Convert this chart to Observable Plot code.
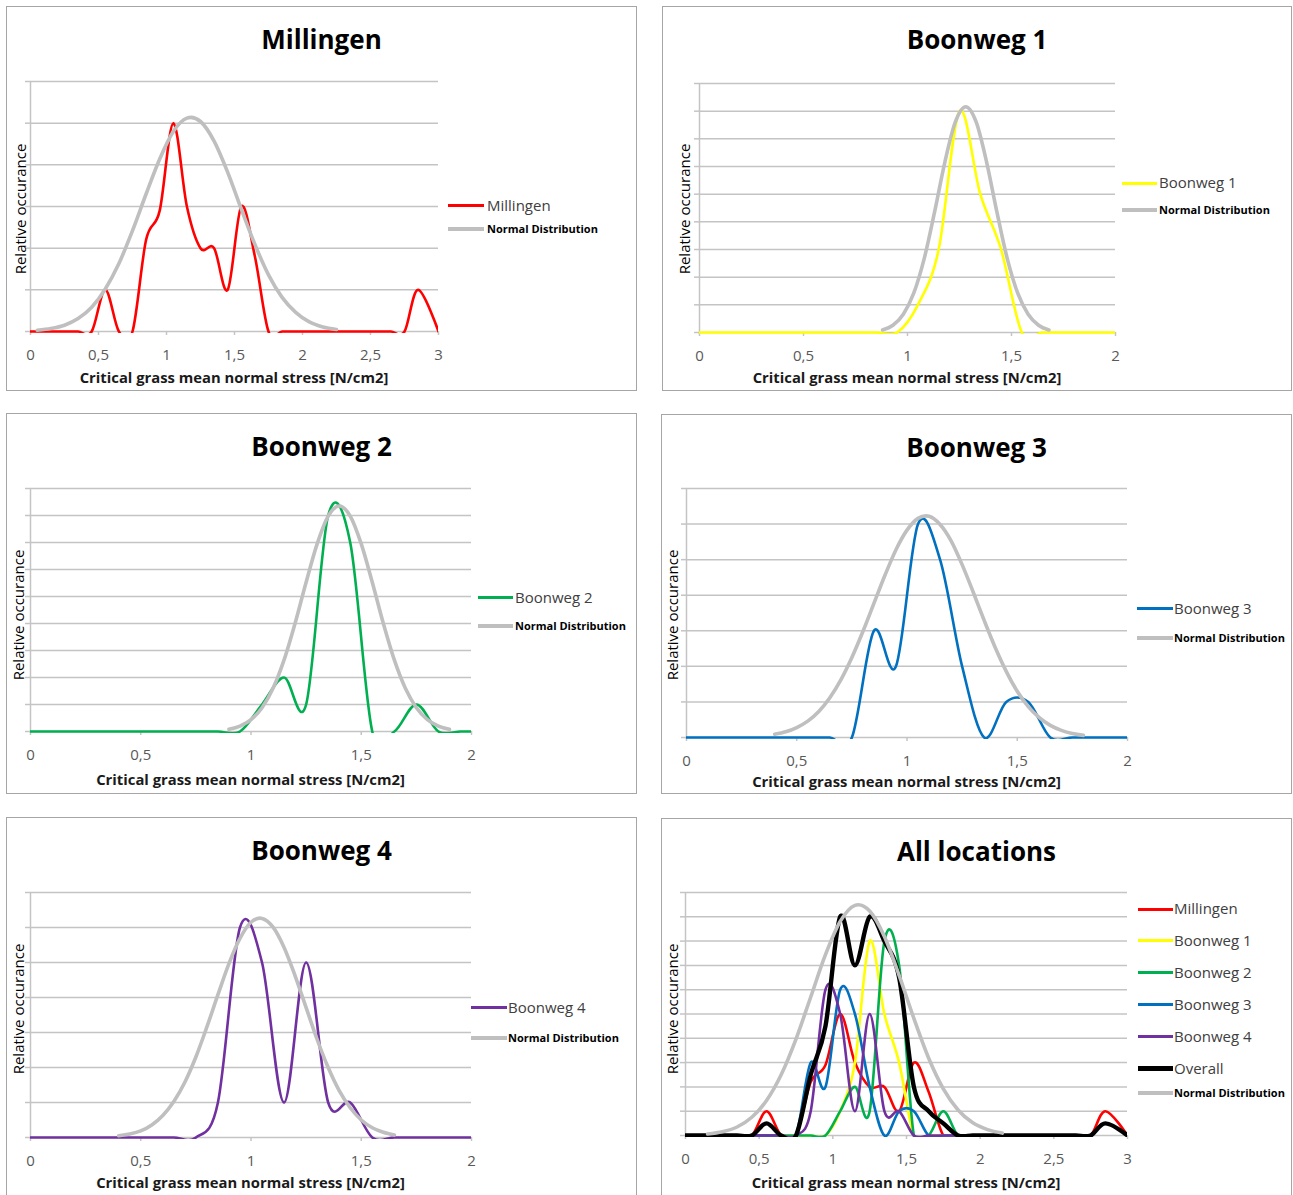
<!DOCTYPE html>
<html><head><meta charset="utf-8">
<script src="https://cdn.jsdelivr.net/npm/d3@7"></script>
<script src="https://cdn.jsdelivr.net/npm/@observablehq/plot@0.6"></script>
<style>
html,body{margin:0;padding:0;background:#fff;}
#root{position:relative;width:1293px;height:1195px;overflow:hidden;background:#fff;font-family:"Open Sans",sans-serif;}
.panel{position:absolute;border:1px solid #a6a6a6;box-sizing:border-box;}
.abs{position:absolute;white-space:nowrap;}
.pw{position:absolute;}
.pw svg{overflow:visible;}
</style></head><body><div id="root"></div>
<script>
// ---------- DATA ----------
const titles = ["Millingen", "Boonweg 1", "Boonweg 2", "Boonweg 3", "Boonweg 4", "All locations"];
const xLabel = "Critical grass mean normal stress [N/cm2]";
const yLabel = "Relative occurance";
const normalName = "Normal Distribution";
const overallName = "Overall";

const xTicks3 = [0, 0.5, 1, 1.5, 2, 2.5, 3];
const xTicks2 = [0, 0.5, 1, 1.5, 2];
const yTicks6 = [0, 1, 2, 3, 4, 5, 6];
const yTicks7 = [0, 1, 2, 3, 4, 5, 6, 7];
const yTicks9 = [0, 1, 2, 3, 4, 5, 6, 7, 8, 9];
const yTicks10 = [0, 1, 2, 3, 4, 5, 6, 7, 8, 9, 10];

// bin positions
const binsTo3 = [0, 0.05, 0.15, 0.25, 0.35, 0.45, 0.55, 0.65, 0.75, 0.85, 0.95, 1.05, 1.15, 1.25, 1.35, 1.45, 1.55, 1.65, 1.75, 1.85, 1.95, 2.05, 2.15, 2.25, 2.35, 2.45, 2.55, 2.65, 2.75, 2.85, 3.0];
const binsTo2 = [0, 0.05, 0.15, 0.25, 0.35, 0.45, 0.55, 0.65, 0.75, 0.85, 0.95, 1.05, 1.15, 1.25, 1.35, 1.45, 1.55, 1.65, 1.75, 1.85, 1.95, 2.0];

// observed relative occurrence
const millingen = [0, 0, 0, 0, 0, 0, 1, 0, 0, 2.2, 2.9, 5, 3, 2, 2, 1, 3, 1.8, 0, 0, 0, 0, 0, 0, 0, 0, 0, 0, 0, 1, 0];
const boonweg1 = [0, 0, 0, 0, 0, 0, 0, 0, 0, 0, 0, 1, 3, 8, 5, 3, 0, 0, 0, 0, 0, 0];
const boonweg2 = [0, 0, 0, 0, 0, 0, 0, 0, 0, 0, 0, 1, 2, 1, 8, 7, 0, 0, 1, 0, 0, 0];
const boonweg3 = [0, 0, 0, 0, 0, 0, 0, 0, 0, 3, 2, 6, 5, 2, 0, 1, 1, 0, 0, 0, 0, 0];
const boonweg4 = [0, 0, 0, 0, 0, 0, 0, 0, 0, 1, 6, 5, 1, 5, 1, 1, 0, 0, 0, 0, 0, 0];
const overall = [0, 0, 0, 0, 0, 0, 0.5, 0, 0, 2.5, 4.5, 9, 7, 9, 8, 6.5, 2, 1, 0.5, 0, 0, 0, 0, 0, 0, 0, 0, 0, 0, 0.5, 0];

// fitted normal distributions
const normMillingenX = [0.05, 0.15, 0.25, 0.35, 0.45, 0.55, 0.65, 0.75, 0.85, 0.95, 1.05, 1.15, 1.25, 1.35, 1.45, 1.55, 1.65, 1.75, 1.85, 1.95, 2.05, 2.15, 2.25];
const normMillingenY = [0.03, 0.07, 0.15, 0.31, 0.58, 1.02, 1.63, 2.42, 3.30, 4.14, 4.80, 5.12, 5.04, 4.57, 3.82, 2.94, 2.09, 1.36, 0.82, 0.46, 0.23, 0.11, 0.05];
const normB1X = [0.88, 0.93, 0.98, 1.03, 1.08, 1.13, 1.18, 1.23, 1.28, 1.33, 1.38, 1.43, 1.48, 1.53, 1.58, 1.63, 1.68];
const normB1Y = [0.09, 0.26, 0.66, 1.42, 2.66, 4.35, 6.17, 7.61, 8.16, 7.61, 6.17, 4.35, 2.66, 1.42, 0.66, 0.26, 0.09];
const normB2X = [0.90, 0.95, 1.00, 1.05, 1.10, 1.15, 1.20, 1.25, 1.30, 1.35, 1.40, 1.45, 1.50, 1.55, 1.60, 1.65, 1.70, 1.75, 1.80, 1.85, 1.90];
const normB2Y = [0.08, 0.20, 0.44, 0.88, 1.60, 2.65, 4.01, 5.53, 6.95, 7.98, 8.35, 7.98, 6.95, 5.53, 4.01, 2.65, 1.60, 0.88, 0.44, 0.20, 0.08];
const normB3X = [0.40, 0.45, 0.50, 0.55, 0.60, 0.65, 0.70, 0.75, 0.80, 0.85, 0.90, 0.95, 1.00, 1.05, 1.10, 1.15, 1.20, 1.25, 1.30, 1.35, 1.40, 1.45, 1.50, 1.55, 1.60, 1.65, 1.70, 1.75, 1.80];
const normB3Y = [0.09, 0.16, 0.28, 0.46, 0.73, 1.12, 1.62, 2.25, 2.98, 3.77, 4.56, 5.28, 5.83, 6.16, 6.22, 5.99, 5.53, 4.86, 4.09, 3.29, 2.53, 1.86, 1.30, 0.87, 0.56, 0.34, 0.20, 0.11, 0.06];
const normB4X = [0.40, 0.45, 0.50, 0.55, 0.60, 0.65, 0.70, 0.75, 0.80, 0.85, 0.90, 0.95, 1.00, 1.05, 1.10, 1.15, 1.20, 1.25, 1.30, 1.35, 1.40, 1.45, 1.50, 1.55, 1.60, 1.65];
const normB4Y = [0.05, 0.10, 0.19, 0.36, 0.63, 1.03, 1.58, 2.30, 3.16, 4.08, 4.97, 5.69, 6.15, 6.26, 6.01, 5.43, 4.62, 3.71, 2.80, 2.00, 1.34, 0.85, 0.50, 0.28, 0.15, 0.07];
const normAllX = [0.15, 0.25, 0.35, 0.45, 0.55, 0.65, 0.75, 0.85, 0.95, 1.05, 1.15, 1.25, 1.35, 1.45, 1.55, 1.65, 1.75, 1.85, 1.95, 2.05, 2.15];
const normAllY = [0.06, 0.15, 0.35, 0.75, 1.44, 2.51, 3.97, 5.70, 7.44, 8.81, 9.47, 9.24, 8.19, 6.59, 4.82, 3.19, 1.92, 1.05, 0.52, 0.24, 0.10];

// ---------- STYLE ----------
const GRID = "#c4c4c4";
const COL = {m: "#ff0000", b1: "#ffff00", b2: "#00b050", b3: "#0070c0", b4: "#7030a0", all: "#000000", norm: "#bfbfbf"};
const zip = (xs, ys) => xs.map((x, i) => ({x, y: ys[i]}));
const fmt = d => String(d).replace(".", ",");

const root = document.getElementById("root");

function addText(str, o) {
  const el = document.createElement("div");
  el.className = "abs";
  el.textContent = str;
  const fs = o.fs;
  el.style.fontSize = fs + "px";
  el.style.fontWeight = o.weight || 400;
  el.style.color = o.color || "#000";
  el.style.lineHeight = (fs * 1.362) + "px";
  if (o.rotate) {
    el.style.left = (o.baselineX - 0.388 * fs) + "px";
    el.style.top = o.cy + "px";
    el.style.transform = "translate(-50%,-50%) rotate(-90deg)";
  } else {
    el.style.top = (o.baseline - 1.069 * fs) + "px";
    el.style.left = o.x + "px";
    if (o.anchor === "middle") el.style.transform = "translateX(-50%)";
  }
  root.appendChild(el);
}
function addSwatch(x1, x2, y, t, color) {
  const el = document.createElement("div");
  el.className = "abs";
  el.style.left = x1 + "px"; el.style.width = (x2 - x1) + "px";
  el.style.top = (y - t / 2) + "px"; el.style.height = t + "px";
  el.style.background = color;
  root.appendChild(el);
}

function makePanel(c) {
  const box = document.createElement("div");
  box.className = "panel";
  box.style.left = c.L + "px"; box.style.top = c.T + "px";
  box.style.width = (c.R - c.L) + "px"; box.style.height = (c.B - c.T) + "px";
  root.appendChild(box);

  const W = c.R - c.L;
  const yb = c.yBase - c.T, yt = c.yTop - c.T;
  const H = yb + 45;
  const marks = [
    Plot.ruleY(c.yTicks, {stroke: GRID, strokeWidth: 1.5}),
    Plot.ruleX([0], {stroke: GRID, strokeWidth: 1.5}),
    Plot.axisY({ticks: c.yTicks, tickSize: 5, tickFormat: () => "", stroke: GRID, strokeWidth: 1.5, label: null}),
    Plot.axisX({ticks: c.xTicks, tickSize: 4, tickPadding: 14, tickFormat: fmt, stroke: GRID, strokeWidth: 1.5, fill: "#595959", fontSize: 15, label: null, dy: -2})
  ];
  for (const s of c.series) {
    marks.push(Plot.line(s.data, {x: "x", y: "y", stroke: s.color, strokeWidth: s.w, curve: "cardinal", clip: true, strokeLinejoin: "round"}));
  }
  const svg = Plot.plot({
    width: W, height: H,
    marginLeft: c.x0 - c.L, marginRight: c.R - c.x1, marginTop: yt, marginBottom: H - (yb + 2),
    x: {domain: [0, c.xmax]},
    y: {domain: [0, c.ymax], range: [yb, yt]},
    style: {fontFamily: "'Open Sans', sans-serif", fontSize: "15px", background: "transparent", overflow: "visible"},
    marks
  });
  const wrap = document.createElement("div");
  wrap.className = "pw";
  wrap.style.left = c.L + "px"; wrap.style.top = c.T + "px";
  wrap.appendChild(svg);
  root.appendChild(wrap);

  // texts
  addText(c.title, {x: (c.L + c.R) / 2, baseline: c.titleBase, fs: 26, weight: 700, anchor: "middle"});
  addText(xLabel, {x: (c.x0 + c.x1) / 2, baseline: c.xlBase, fs: 14.8, weight: 700, color: "#1a1a1a", anchor: "middle"});
  addText(yLabel, {rotate: true, baselineX: c.ylX, cy: c.ylY, fs: 15, color: "#000"});
  // legend
  for (const e of c.legend) {
    addSwatch(c.lgX1, c.lgX2, e.y, e.t, e.color);
    if (e.normal) addText(e.name, {x: c.lgTx, baseline: e.y + 3.9, fs: 11, weight: 700, color: "#000"});
    else addText(e.name, {x: c.lgTx, baseline: e.y + 5.4, fs: 15, color: "#404040"});
  }
}

const nrm = (xs, ys) => ({data: zip(xs, ys), color: COL.norm, w: 3.6});

makePanel({
  title: titles[0], L: 6, T: 6, R: 637, B: 391, x0: 30, x1: 438, yTop: 81, yBase: 331, xmax: 3, ymax: 6,
  xTicks: xTicks3, yTicks: yTicks6, titleBase: 49.5, xlBase: 383, ylX: 25.4, ylY: 208.5,
  series: [{data: zip(binsTo3, millingen), color: COL.m, w: 2.6}, nrm(normMillingenX, normMillingenY)],
  lgX1: 448, lgX2: 484, lgTx: 487,
  legend: [{name: titles[0], y: 205.5, t: 3, color: COL.m}, {name: normalName, y: 229.3, t: 4, color: COL.norm, normal: true}]
});
makePanel({
  title: titles[1], L: 662, T: 6, R: 1292, B: 391, x0: 699, x1: 1115, yTop: 83, yBase: 332, xmax: 2, ymax: 9,
  xTicks: xTicks2, yTicks: yTicks9, titleBase: 50, xlBase: 383, ylX: 690, ylY: 208.5,
  series: [{data: zip(binsTo2, boonweg1), color: COL.b1, w: 2.6}, nrm(normB1X, normB1Y)],
  lgX1: 1122, lgX2: 1157, lgTx: 1159,
  legend: [{name: titles[1], y: 183, t: 3, color: COL.b1}, {name: normalName, y: 210, t: 4, color: COL.norm, normal: true}]
});
makePanel({
  title: titles[2], L: 6, T: 413, R: 637, B: 794, x0: 30, x1: 471, yTop: 488, yBase: 731, xmax: 2, ymax: 9,
  xTicks: xTicks2, yTicks: yTicks9, titleBase: 456.7, xlBase: 785, ylX: 24, ylY: 615,
  series: [{data: zip(binsTo2, boonweg2), color: COL.b2, w: 2.6}, nrm(normB2X, normB2Y)],
  lgX1: 478, lgX2: 513, lgTx: 515,
  legend: [{name: titles[2], y: 597.3, t: 3, color: COL.b2}, {name: normalName, y: 626, t: 4, color: COL.norm, normal: true}]
});
makePanel({
  title: titles[3], L: 661, T: 414, R: 1292, B: 794, x0: 686, x1: 1127, yTop: 488, yBase: 737, xmax: 2, ymax: 7,
  xTicks: xTicks2, yTicks: yTicks7, titleBase: 457.3, xlBase: 786.7, ylX: 677.5, ylY: 615,
  series: [{data: zip(binsTo2, boonweg3), color: COL.b3, w: 2.6}, nrm(normB3X, normB3Y)],
  lgX1: 1137, lgX2: 1173, lgTx: 1174,
  legend: [{name: titles[3], y: 608.3, t: 3, color: COL.b3}, {name: normalName, y: 637.7, t: 4, color: COL.norm, normal: true}]
});
makePanel({
  title: titles[4], L: 6, T: 817, R: 637, B: 1210, x0: 30, x1: 471, yTop: 892, yBase: 1137, xmax: 2, ymax: 7,
  xTicks: xTicks2, yTicks: yTicks7, titleBase: 860.7, xlBase: 1188, ylX: 23.4, ylY: 1009,
  series: [{data: zip(binsTo2, boonweg4), color: COL.b4, w: 2.6}, nrm(normB4X, normB4Y)],
  lgX1: 471, lgX2: 507, lgTx: 508,
  legend: [{name: titles[4], y: 1007.3, t: 3, color: COL.b4}, {name: normalName, y: 1038.3, t: 4, color: COL.norm, normal: true}]
});
makePanel({
  title: titles[5], L: 661, T: 818, R: 1292, B: 1210, x0: 685, x1: 1127, yTop: 892, yBase: 1135, xmax: 3, ymax: 10,
  xTicks: xTicks3, yTicks: yTicks10, titleBase: 861.7, xlBase: 1188, ylX: 677.5, ylY: 1009,
  series: [
    {data: zip(binsTo3, millingen), color: COL.m, w: 2.6},
    {data: zip(binsTo2, boonweg1), color: COL.b1, w: 2.6},
    {data: zip(binsTo2, boonweg2), color: COL.b2, w: 2.6},
    {data: zip(binsTo2, boonweg3), color: COL.b3, w: 2.6},
    {data: zip(binsTo2, boonweg4), color: COL.b4, w: 2.6},
    {data: zip(binsTo3, overall), color: COL.all, w: 4.4},
    nrm(normAllX, normAllY)
  ],
  lgX1: 1138, lgX2: 1173, lgTx: 1174,
  legend: [
    {name: titles[0], y: 909, t: 3, color: COL.m},
    {name: titles[1], y: 940.7, t: 3, color: COL.b1},
    {name: titles[2], y: 972.7, t: 3, color: COL.b2},
    {name: titles[3], y: 1004.3, t: 3, color: COL.b3},
    {name: titles[4], y: 1036.7, t: 3, color: COL.b4},
    {name: overallName, y: 1068.3, t: 5, color: COL.all},
    {name: normalName, y: 1093.3, t: 4, color: COL.norm, normal: true}
  ]
});
</script></body></html>
